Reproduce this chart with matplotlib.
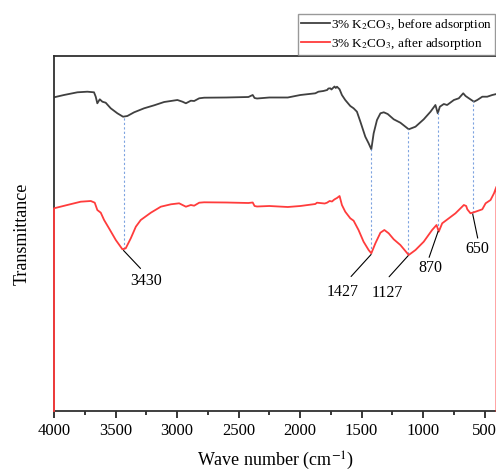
#!/usr/bin/env python3

import numpy as np
from matplotlib import pyplot as plt

plt.rcParams['font.family'] = ['Liberation Serif', 'DejaVu Serif']
plt.rcParams['mathtext.fontset'] = 'stix'

# wave number (cm-1) and transmittance (a.u.)
wn_before = np.array([4000, 3919, 3810, 3729, 3675, 3661, 3648, 3628, 3607, 3580, 3539, 3485, 3439,
                      3404, 3349, 3268, 3186, 3105, 2997, 2956, 2928, 2888, 2861, 2820, 2780, 2600,
                      2420, 2385, 2370, 2350, 2250, 2100, 1998, 1876, 1851, 1811, 1780, 1770, 1754,
                      1745, 1727, 1720, 1710, 1700, 1679, 1660, 1633, 1592, 1565, 1538, 1510, 1470,
                      1443, 1421, 1402, 1375, 1347, 1320, 1288, 1239, 1185, 1117, 1062, 995, 940,
                      900, 881, 864, 832, 805, 750, 710, 674, 655, 628, 587, 560, 519, 479, 438, 404])
t_before = np.array([313.7, 316, 318.7, 319.3, 318.7, 314.3, 307.7, 311.7, 309.3, 308.3, 302.7, 297.7, 294.3,
                     295, 298.7, 302.7, 305.7, 309, 311, 309.3, 307.7, 310.3, 310, 312.7, 313.3, 313.5,
                     314, 316, 313, 312.5, 313.5, 313.5, 316, 317.7, 319.3, 320, 321, 322.5, 322.7,
                     321.5, 323.7, 324.5, 323, 324.3, 321.7, 316, 311, 305, 302.7, 299.3, 289.3, 274.3,
                     267.7, 261.7, 277.7, 291, 297.7, 298.7, 297, 291.7, 288.3, 281.7, 284.3, 291.7, 299.3,
                     306, 297.7, 304.3, 307, 306, 311, 312.7, 317.7, 315, 312.7, 309.3, 311, 314.3, 314.3, 316, 317])

wn_after = np.array([4000, 4000, 3892, 3783, 3701, 3669, 3648, 3620, 3593, 3553, 3498, 3444, 3417,
                     3376, 3335, 3295, 3213, 3132, 3050, 2983, 2928, 2888, 2861, 2820, 2780, 2600,
                     2420, 2385, 2370, 2350, 2250, 2100, 1998, 1876, 1863, 1800, 1781, 1760, 1740,
                     1727, 1715, 1700, 1679, 1660, 1633, 1592, 1565, 1525, 1484, 1443, 1421, 1388,
                     1347, 1315, 1280, 1239, 1185, 1117, 1062, 995, 927, 891, 873, 845, 791, 737,
                     696, 669, 650, 641, 615, 574, 519, 492, 452, 424, 404, 404])
t_after = np.array([0, 202.7, 206, 209.3, 210, 208.3, 201, 198.3, 191, 182.7, 171, 161.7, 162.7,
                    172.7, 184.3, 191, 198.3, 204.3, 206.7, 207.7, 204.3, 206, 205.3, 208.3, 208.7, 208.5,
                    208, 208.5, 205, 204.5, 205, 204, 205, 207, 208.3, 207.5, 208.3, 210, 209.5,
                    211, 212, 213, 215, 206, 199.3, 192.7, 190.3, 181, 169.3, 161, 157.7, 167.7,
                    178.3, 181, 177.7, 171.7, 166, 156, 161, 169.3, 181, 186, 179.3, 187.7, 192.7, 197.7,
                    202.7, 206, 205, 201.7, 197.7, 199.3, 201.7, 207.7, 211, 217.7, 224.3, 0])

peak_pos = [3435, 1423, 1122, 878, 597]
peak_labels = ['3430', '1427', '1127', '870', '650']
# leader end and label offsets from the peak, in pixels
leader_off = [(17, -18), (-20, -22), (-19, -21), (-9, -26), (5, -24)]
label_off = [(23, -23), (-28, -30), (-21, -29), (-8, -29), (5, -27)]

fig = plt.figure(figsize=(4.96, 4.71), dpi=100)
ax = fig.add_axes([0.1089, 0.1274, 0.893, 0.7537])

ax.plot(wn_before, t_before, color='#404040', lw=1.3, label=r'3% K$_2$CO$_3$, before adsorption')
ax.plot(wn_after, t_after, color='#ff3c3c', lw=1.3, zorder=3, clip_on=False,
        label=r'3% K$_2$CO$_3$, after adsorption')

for p, lab, lo, to in zip(peak_pos, peak_labels, leader_off, label_off):
  top = np.interp(p, wn_before[::-1], t_before[::-1])
  bot = np.interp(p, wn_after[1:-1][::-1], t_after[1:-1][::-1])
  ax.plot([p, p], [bot, top], color='#7da3e0', lw=0.8, ls=(0, (2, 2)))
  start = (p, bot - 1.5)
  ax.annotate('', xy=start, xytext=lo, textcoords='offset pixels',
              arrowprops=dict(arrowstyle='-', lw=0.8, color='black', shrinkA=0, shrinkB=0))
  ax.annotate(lab, xy=start, xytext=to, textcoords='offset pixels',
              ha='center', va='top', fontsize=11.5)

ax.set_xlim(4000, 400)
ax.set_ylim(0, 355)
ax.set_xticks([4000, 3500, 3000, 2500, 2000, 1500, 1000, 500])
ax.set_xticks(np.arange(3750, 400, -500), minor=True)
ax.set_yticks([])
ax.tick_params(axis='x', which='major', direction='out', length=5, width=1.1, labelsize=12)
ax.tick_params(axis='x', which='minor', direction='out', length=3, width=1.1)
for s in ax.spines.values():
  s.set_linewidth(1.3)
  s.set_color('#303030')
ax.set_xlabel('Wave number (cm$^{-1}$)', fontsize=13, labelpad=8)
ax.set_ylabel('Transmittance', fontsize=13, labelpad=17)

fig.legend(loc='lower left', bbox_to_anchor=(0.601, 0.884), fontsize=9.5, frameon=True,
           fancybox=False, edgecolor='#808080', borderaxespad=0, handlelength=2.2,
           handletextpad=0.1, borderpad=0.2, labelspacing=0.25)

plt.savefig('out.png', dpi=100)
